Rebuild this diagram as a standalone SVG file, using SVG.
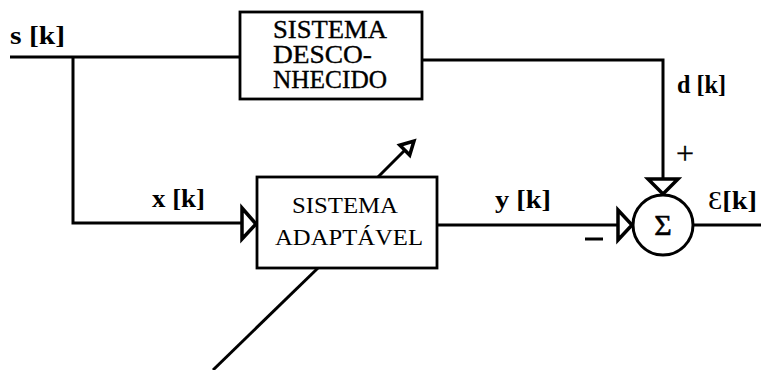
<svg xmlns="http://www.w3.org/2000/svg" width="761" height="370" viewBox="0 0 761 370">
  <style>
    .ln { fill: none; stroke: #000; stroke-width: 3; stroke-linejoin: miter; }
    .box { fill: #fff; stroke: #000; stroke-width: 2.8; }
    .tri { fill: #fff; stroke: #000; stroke-width: 3.5; stroke-linejoin: miter; }
    .lbl { font-family: "Liberation Serif", "Times New Roman", serif; font-weight: bold; font-size: 25px; fill: #000; }
    .btxt { font-family: "Liberation Serif", "Times New Roman", serif; font-size: 23px; fill: #000; }
    .big { font-size: 25px; }
    .heavy { stroke: #000; stroke-width: 0.35; }
  </style>

  <!-- connectors -->
  <g id="connectors">
    <!-- input s[k] to unknown system, with branch to adaptive system -->
    <polyline class="ln" points="10,57 240,57"/>
    <polyline class="ln" points="73,57 73,223 242,223"/>
    <!-- unknown system output d[k] down to summer -->
    <polyline class="ln" points="421,60 663,60 663,179"/>
    <!-- adaptive system output y[k] to summer -->
    <line class="ln" x1="437" y1="225" x2="618" y2="225"/>
    <!-- error output -->
    <line class="ln" x1="693" y1="225" x2="761" y2="225"/>
    <!-- adaptation arrow through the adaptive system -->
    <line class="ln" x1="213" y1="370" x2="318" y2="268"/>
    <line class="ln" x1="377" y1="178" x2="405" y2="150"/>
    <polygon class="tri" points="414,141 409.7,155.1 399.8,145.2"/>
    <!-- input arrowheads -->
    <polygon class="tri" points="242,208 242,239 256,224"/>
    <polygon class="tri" points="618,210 618,240 632,225"/>
    <polygon class="tri" points="648,179 678,179 663,194"/>
  </g>

  <g id="sistema-desconhecido">
    <rect class="box" x="240" y="12" width="182" height="87"/>
    <text class="btxt big heavy" x="273" y="38" textLength="114" lengthAdjust="spacingAndGlyphs">SISTEMA</text>
    <text class="btxt big heavy" x="273" y="63" textLength="99" lengthAdjust="spacingAndGlyphs">DESCO-</text>
    <text class="btxt big heavy" x="273" y="88" textLength="114" lengthAdjust="spacingAndGlyphs">NHECIDO</text>
  </g>

  <g id="sistema-adaptavel">
    <rect class="box" x="257" y="177" width="180" height="91"/>
    <text class="btxt" x="292" y="213" textLength="106" lengthAdjust="spacingAndGlyphs">SISTEMA</text>
    <text class="btxt" x="275" y="245" textLength="148" lengthAdjust="spacingAndGlyphs">ADAPTÁVEL</text>
  </g>

  <g id="somador">
    <circle cx="663" cy="225" r="30" fill="#fff" stroke="#000" stroke-width="3"/>
    <text x="663" y="235" text-anchor="middle" font-family="'Liberation Serif', 'DejaVu Serif', serif" font-size="30" fill="#000" stroke="#000" stroke-width="0.6">Σ</text>
    <text x="685" y="164" text-anchor="middle" font-family="'Liberation Serif', 'Times New Roman', serif" font-size="32" fill="#000" stroke="#000" stroke-width="0.3">+</text>
    <line x1="585" y1="239" x2="603" y2="239" stroke="#000" stroke-width="3"/>
  </g>

  <g id="labels">
    <text class="lbl" x="10" y="44" textLength="55" lengthAdjust="spacingAndGlyphs">s [k]</text>
    <text class="lbl" x="152" y="207" textLength="53" lengthAdjust="spacingAndGlyphs">x [k]</text>
    <text class="lbl" x="495" y="208" textLength="56" lengthAdjust="spacingAndGlyphs">y [k]</text>
    <text class="lbl" x="677" y="93" textLength="49" lengthAdjust="spacingAndGlyphs">d [k]</text>
    <text class="lbl" x="708" y="209" textLength="49" lengthAdjust="spacingAndGlyphs"><tspan font-weight="normal">Ɛ</tspan>[k]</text>
  </g>
</svg>
